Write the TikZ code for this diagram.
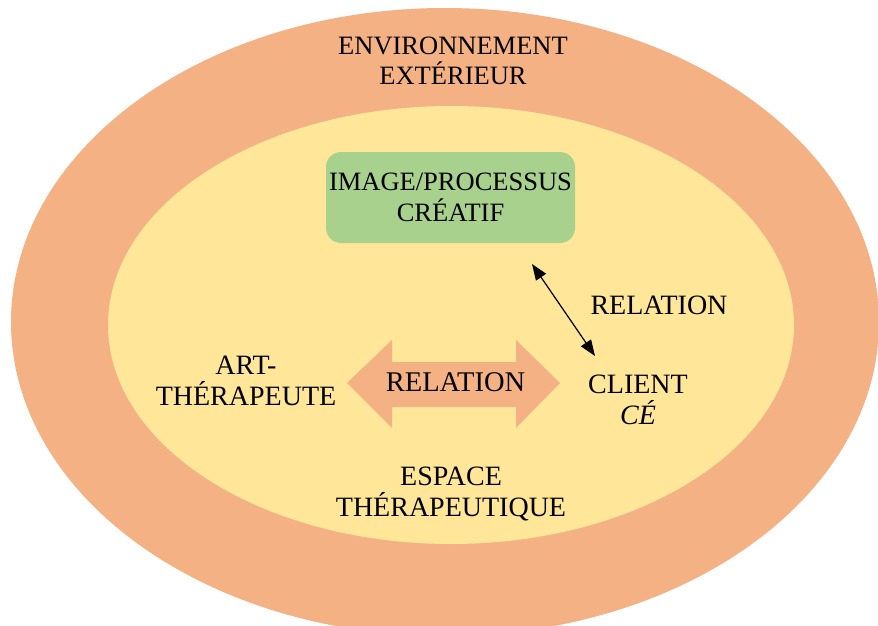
\documentclass[tikz,border=0pt]{standalone}
\usepackage{fontspec}
\setmainfont{Liberation Serif}
\usetikzlibrary{arrows.meta}
\definecolor{outerc}{HTML}{F4B183}
\definecolor{innerc}{HTML}{FFE699}
\definecolor{greenc}{HTML}{A9D18E}
\tikzset{
  lbl/.style={align=center, inner sep=0pt, font=\fontsize{26.5}{30.5}\selectfont},
  midlbl/.style={align=center, inner sep=0pt, font=\fontsize{28}{31.5}\selectfont},
  biglbl/.style={align=center, inner sep=0pt, font=\fontsize{28.5}{31}\selectfont},
  greenbox/.style={fill=greenc, rounded corners=15pt, minimum width=249pt, minimum height=91pt, inner sep=0pt, align=center, font=\fontsize{26.5}{31}\selectfont},
  thinarrow/.style={{Triangle[length=16pt,width=12pt]}-{Triangle[length=16pt,width=12pt]}, line width=1.2pt, black}
}
\begin{document}
\begin{tikzpicture}[x=1pt,y=-1pt]
\useasboundingbox (0,0) rectangle (878,626);
\begin{scope}
  \clip (0,0) rectangle (878,626);
  \fill[outerc] (445,322) ellipse [x radius=434, y radius=314];
\end{scope}
\fill[innerc] (451,325) ellipse [x radius=343, y radius=219];
% labels
\node[lbl] (env) at (453,61) {ENVIRONNEMENT\\EXTÉRIEUR};
\node[greenbox] (img) at (450.5,197.5) {IMAGE/PROCESSUS\\CRÉATIF};
\node[midlbl] (rel2) at (659,305.5) {RELATION};
\node[midlbl] (art) at (246,381) {ART-\\THÉRAPEUTE};
\node[midlbl] (client) at (638,400) {CLIENT\\\textit{CÉ}};
\node[midlbl] (espace) at (451,494) {ESPACE\\THÉRAPEUTIQUE};
% double arrow
\fill[outerc] (347,383) -- (392,340) -- (392,362) -- (516,362) -- (516,340) -- (560,383)
  -- (516,428) -- (516,407) -- (392,407) -- (392,428) -- cycle;
\node[biglbl] (rel1) at (455.5,382) {RELATION};
% thin arrow
\coordinate (ta) at (532,264);
\coordinate (tb) at (595,356);
\draw[thinarrow] (ta) -- (tb);
\end{tikzpicture}
\end{document}
